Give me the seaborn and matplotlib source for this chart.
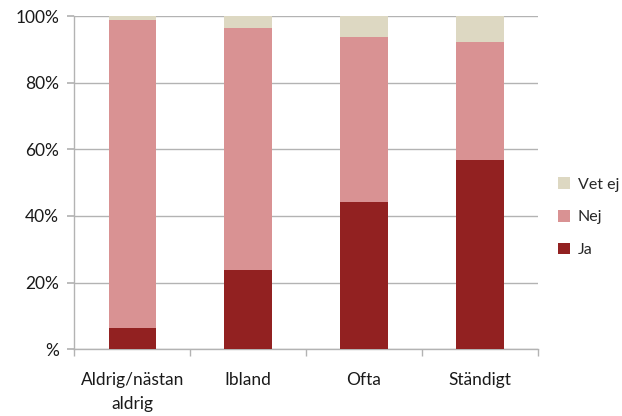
import matplotlib
matplotlib.use("Agg")
import matplotlib.pyplot as plt
import seaborn as sns
import pandas as pd
import numpy as np
from matplotlib.patches import Patch

categories = ["Aldrig/nästan\naldrig", "Ibland", "Ofta", "Ständigt"]
ja = [6.4, 23.8, 44.2, 56.8]
nej = [92.4, 72.6, 49.5, 35.4]
vet_ej = [1.2, 3.6, 6.3, 7.8]
series_names = ["Ja", "Nej", "Vet ej"]
colors = {"Ja": "#922121", "Nej": "#D99293", "Vet ej": "#DDD8C2"}
ytick_labels = ["%", "20%", "40%", "60%", "80%", "100%"]

sns.set_theme(style="white")
plt.rcParams["font.family"] = ["Lato", "DejaVu Sans"]

df = pd.DataFrame({"cat": categories, "Ja": ja, "Nej": nej, "Vet ej": vet_ej})
df["c_ja"] = df["Ja"]
df["c_nej"] = df["Ja"] + df["Nej"]
df["c_vet"] = df["Ja"] + df["Nej"] + df["Vet ej"]

fig = plt.figure(figsize=(6.22, 4.16), dpi=100)
ax = fig.add_axes([0.1195, 0.1603, 0.745, 0.8012])

for col, name in [("c_vet", "Vet ej"), ("c_nej", "Nej"), ("c_ja", "Ja")]:
    sns.barplot(data=df, x="cat", y=col, color=colors[name], width=0.41,
                saturation=1, ax=ax, zorder=3, linewidth=0)

ax.set_ylim(0, 100)
ax.set_xlim(-0.5, 3.5)
ax.set_yticks([0, 20, 40, 60, 80, 100])
ax.set_yticklabels(ytick_labels)
ax.yaxis.grid(True, color="#B3B3B3", linewidth=1, zorder=0)
ax.set_axisbelow(True)
ax.set_xlabel("")
ax.set_ylabel("")

for s in ["top", "right"]:
    ax.spines[s].set_visible(False)
for s in ["left", "bottom"]:
    ax.spines[s].set_color("#B3B3B3")
    ax.spines[s].set_linewidth(1)

ax.tick_params(axis="y", which="major", direction="out", length=5, color="#B3B3B3",
               left=True, labelsize=12.5, pad=6, labelcolor="#1a1a1a")
ax.set_xticks(np.arange(len(categories)))
ax.set_xticklabels(categories, linespacing=1.65)
ax.tick_params(axis="x", which="major", length=0, labelsize=12.5, pad=16, labelcolor="#1a1a1a")
ax.set_xticks(np.arange(-0.5, len(categories)), minor=True)
ax.tick_params(axis="x", which="minor", direction="out", length=5, color="#B3B3B3", bottom=True)

handles = [Patch(facecolor=colors[n], edgecolor="none") for n in ["Vet ej", "Nej", "Ja"]]
fig.legend(handles, ["Vet ej", "Nej", "Ja"], loc="center left",
           bbox_to_anchor=(0.889, 0.478), frameon=False, fontsize=11.5,
           handlelength=0.75, handleheight=0.75, labelspacing=1.15, handletextpad=0.5,
           borderaxespad=0, borderpad=0.3)

fig.savefig("out.png", dpi=100)
